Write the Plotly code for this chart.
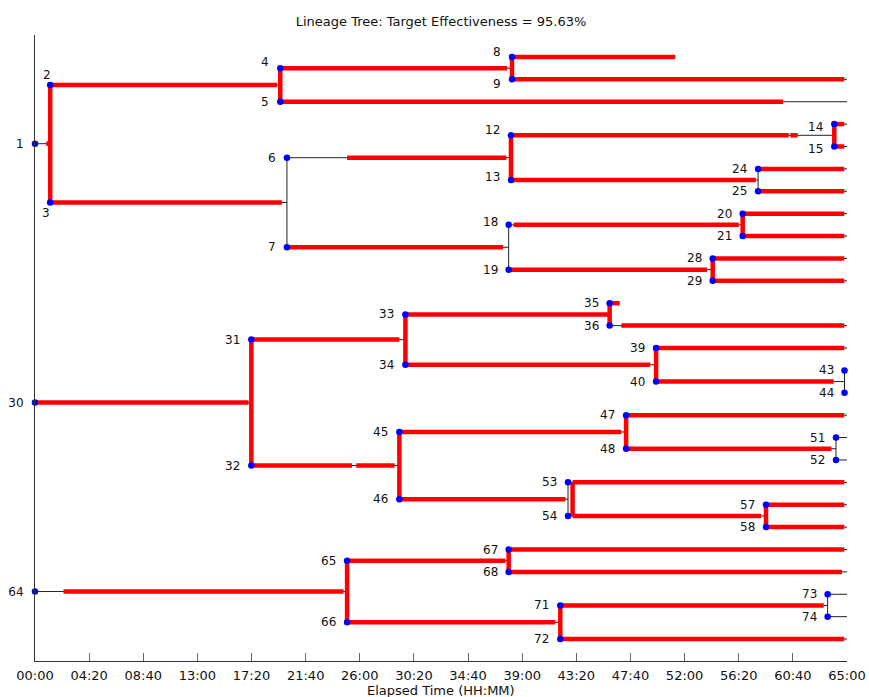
import plotly.graph_objects as go

# ---------------- data ----------------
cell_id = [1, 2, 3, 4, 5, 6, 7, 8, 9, 12, 13, 14, 15, 18, 19, 20, 21, 24, 25, 28, 29,
           30, 31, 32, 33, 34, 35, 36, 39, 40, 43, 44, 45, 46, 47, 48, 51, 52, 53, 54, 57, 58,
           64, 65, 66, 67, 68, 71, 72, 73, 74]
parent = [None, 1, 1, 2, 2, 3, 3, 4, 4, 6, 6, 12, 12, 7, 7, 18, 18, 13, 13, 19, 19,
          None, 30, 30, 31, 31, 33, 33, 34, 34, 40, 40, 32, 32, 45, 45, 48, 48, 46, 46, 54, 54,
          None, 64, 64, 65, 65, 66, 66, 71, 71]
# end of each cell (division / loss / end of experiment), minutes
end_min = [73, 1178, 1210, 2291, 3900, 2286, 2275, 3075, 3900, 3839, 3473, 3900, 3900, 3399, 3255,
           3900, 3900, 3900, 3900, 3900, 3900,
           1039, 1779, 1750, 2760, 2983, 2808, 3900, 3900, 3888, 3900, 3900, 2839, 2560, 3900, 3847,
           3900, 3900, 3900, 3511, 3900, 3900,
           1499, 2275, 2523, 3900, 3900, 3807, 3900, 3900, 3900]

# tracked (target effective) segments, minutes
seg_cell = [1, 2, 3, 4, 5, 6, 7, 8, 9, 12, 12, 13, 14, 15, 18, 19, 20, 21, 24, 25, 28, 29,
            30, 31, 32, 32, 33, 34, 35, 36, 39, 40, 45, 46, 47, 48, 53, 54, 57, 58,
            64, 65, 66, 67, 68, 71, 72]
seg_start = [54, 73, 73, 1178, 1178, 1499, 1210, 2291, 2291, 2286, 3628, 2286, 3839, 3839, 2299, 2275,
             3399, 3399, 3473, 3473, 3255, 3255,
             0, 1039, 1039, 1543, 1779, 1779, 2760, 2816, 2983, 2983, 1750, 1750, 2839, 2839, 2582, 2582,
             3511, 3511,
             137, 1499, 1499, 2275, 2275, 2523, 2523]
seg_end = [73, 1162, 1186, 2267, 3593, 2264, 2248, 3075, 3887, 3620, 3663, 3462, 3887, 3887, 3380, 3228,
           3887, 3887, 3887, 3887, 3887, 3887,
           1026, 1750, 1523, 1727, 2760, 2955, 2808, 3887, 3887, 3836, 2816, 2547, 3887, 3825, 3887, 3487,
           3887, 3887,
           1482, 2259, 2499, 3887, 3876, 3788, 3887]

# divisions drawn with a tracked (red) connector, and where
red_split_parent = [1, 2, 4, 6, 12, 18, 19, 30, 31, 32, 33, 34, 45, 46, 54, 64, 65, 66]
red_split_time = [73, 1178, 2291, 2286, 3839, 3399, 3255, 1039, 1779, 1750, 2760, 2983, 2839, 2582,
                  3511, 1499, 2275, 2523]

tick_vals = [0, 260, 520, 780, 1040, 1300, 1560, 1820, 2080, 2340, 2600, 2860, 3120, 3380, 3640, 3900]
tick_text = ["00:00", "04:20", "08:40", "13:00", "17:20", "21:40", "26:00", "30:20", "34:40",
             "39:00", "43:20", "47:40", "52:00", "56:20", "60:40", "65:00"]

title_text = "Lineage Tree: Target Effectiveness = 95.63%"
x_title = "Elapsed Time (HH:MM)"

# label nudges (style only): id -> (xshift, yshift, xanchor)
label_nudge = {2: (-3, 10, "center"), 3: (-4, -11, "center"), 4: (-9, 6, "right"),
               8: (-9, 5, "right"), 9: (-9, -5, "right"), 12: (-9, 5, "right"),
               13: (-9, 3, "right"), 18: (-9, 3, "right"), 14: (-9, -3, "right"),
               15: (-9, -2, "right")}

FONT = "DejaVu Sans"
W, H = 869, 697
ML, MR, MT, MB = 35, 22, 35, 36

# ---------------- layout of the tree ----------------
end_of = dict(zip(cell_id, end_min))
children = {c: [] for c in cell_id}
for c, p in zip(cell_id, parent):
    if p is not None:
        children[p].append(c)
birth = {c: (0 if p is None else end_of[p]) for c, p in zip(cell_id, parent)}

ypos = {}
leaf_counter = [0]


def place(c):
    if not children[c]:
        ypos[c] = leaf_counter[0]
        leaf_counter[0] += 1
    else:
        for k in children[c]:
            place(k)
        ypos[c] = sum(ypos[k] for k in children[c]) / len(children[c])


roots = [c for c, p in zip(cell_id, parent) if p is None]
for r in roots:
    place(r)
n_leaves = leaf_counter[0]

# ---------------- traces ----------------
bx, by = [], []
for c in cell_id:
    bx += [birth[c], end_of[c], None]
    by += [ypos[c], ypos[c], None]
for c in cell_id:
    if children[c]:
        ys = [ypos[k] for k in children[c]]
        bx += [end_of[c], end_of[c], None]
        by += [min(ys), max(ys), None]

rx, ry = [], []
for c, s, e in zip(seg_cell, seg_start, seg_end):
    rx += [s, e, None]
    ry += [ypos[c], ypos[c], None]
for p, t in zip(red_split_parent, red_split_time):
    ys = [ypos[k] for k in children[p]]
    rx += [t, t, None]
    ry += [min(ys), max(ys), None]

fig = go.Figure()
fig.add_trace(go.Scatter(x=bx, y=by, mode="lines", line=dict(color="#222222", width=1),
                         hoverinfo="skip"))
fig.add_trace(go.Scatter(x=rx, y=ry, mode="lines", line=dict(color="#ff0000", width=4.5),
                         hoverinfo="skip"))
fig.add_trace(go.Scatter(x=[birth[c] for c in cell_id], y=[ypos[c] for c in cell_id],
                         mode="markers", marker=dict(color="#0000ff", size=6.5),
                         cliponaxis=False, hoverinfo="skip"))

annotations = []
for c in cell_id:
    if c in roots:
        continue
    xs, ysh, anc = label_nudge.get(c, (-9, 0, "right"))
    annotations.append(dict(x=birth[c], y=ypos[c], xref="x", yref="y", text=str(c),
                            showarrow=False, xanchor=anc, yanchor="middle",
                            xshift=xs, yshift=ysh,
                            font=dict(family=FONT, size=12, color="#111111")))
plot_h = H - MT - MB
annotations.append(dict(x=0.5, y=-(690 - (H - MB)) / plot_h, xref="paper", yref="paper",
                        text=x_title, showarrow=False, xanchor="center", yanchor="middle",
                        font=dict(family=FONT, size=13, color="#111111")))

fig.update_layout(
    width=W, height=H,
    margin=dict(l=ML, r=MR, t=MT, b=MB, autoexpand=False),
    paper_bgcolor="white", plot_bgcolor="white",
    showlegend=False,
    title=dict(text=title_text, x=0.5, xref="paper", xanchor="center",
               y=1 - 21.5 / H, yref="container", yanchor="middle",
               font=dict(family=FONT, size=13, color="#111111")),
    annotations=annotations,
    xaxis=dict(range=[0, 3900], showline=True, linecolor="#333333", linewidth=1,
               ticks="inside", ticklen=8, tickcolor="#666666", tickwidth=1,
               tickvals=tick_vals, ticktext=tick_text, showgrid=False, zeroline=False,
               automargin=False, ticklabelstandoff=2,
               tickfont=dict(family=FONT, size=13, color="#111111")),
    yaxis=dict(range=[n_leaves - 0.02, -0.98], showline=True, linecolor="#333333", linewidth=1,
               ticks="", tickvals=[ypos[r] for r in roots], ticktext=[str(r) for r in roots],
               showgrid=False, zeroline=False, ticklabelstandoff=8, automargin=False,
               tickfont=dict(family=FONT, size=12, color="#111111")),
)

fig.write_html("out.html")
